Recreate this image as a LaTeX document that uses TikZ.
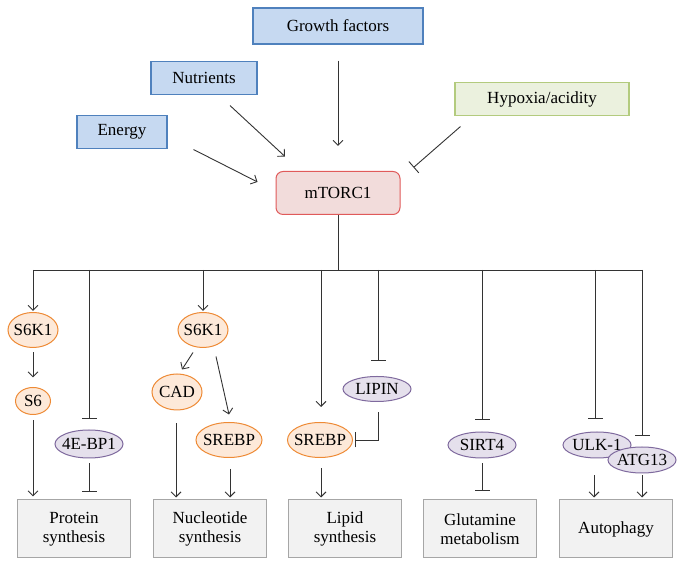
\documentclass[tikz,border=0pt]{standalone}
\usepackage{fontspec}
\setmainfont{Liberation Serif}
\usetikzlibrary{arrows.meta,shapes.geometric}
\definecolor{lnc}{HTML}{333333}
\definecolor{bluef}{HTML}{C6D9F1}
\definecolor{blued}{HTML}{4F81BD}
\definecolor{greenf}{HTML}{EBF1DE}
\definecolor{greend}{HTML}{B3CB7E}
\definecolor{redf}{HTML}{F2DCDB}
\definecolor{redd}{HTML}{E05A5A}
\definecolor{orf}{HTML}{FDE9D9}
\definecolor{ord}{HTML}{EE8A35}
\definecolor{puf}{HTML}{E5E0EC}
\definecolor{pud}{HTML}{7F6A9E}
\definecolor{grf}{HTML}{F2F2F2}
\definecolor{grd}{HTML}{A6A6A6}
\tikzset{
  txt/.style={font=\fontsize{17}{19.5}\selectfont, text=black, inner sep=0pt, align=center},
  inbox/.style={txt, rectangle, draw=blued, fill=bluef, line width=1.1pt},
  hypbox/.style={txt, rectangle, draw=greend, fill=greenf, line width=1.1pt},
  hubbox/.style={txt, rectangle, rounded corners=7pt, draw=redd, fill=redf, line width=1pt},
  ellbase/.style={txt, ellipse, line width=1pt, inner xsep=-5pt, inner ysep=-3pt},
  orell/.style={ellbase, draw=ord, fill=orf},
  puell/.style={ellbase, draw=pud, fill=puf},
  outbox/.style={txt, rectangle, draw=grd, fill=grf, line width=1pt, minimum width=113pt, minimum height=58pt},
  ln/.style={draw=lnc, line width=0.9pt},
  act/.style={ln, -{Straight Barb[length=5pt,width=10pt]}},
  inh/.style={ln, -{Bar[width=15pt]}}
}
\begin{document}
\begin{tikzpicture}[x=1pt,y=1pt]
\useasboundingbox (0,0) rectangle (687,569);
\fill[white] (0,0) rectangle (687,569);
% inputs
\node[inbox, minimum width=170pt, minimum height=36pt] (gf) at (338,543) {Growth factors};
\node[inbox, minimum width=106pt, minimum height=33pt] (nut) at (204,491) {Nutrients};
\node[inbox, minimum width=90pt, minimum height=33pt] (en) at (122,437) {Energy};
\node[hypbox, minimum width=174pt, minimum height=33pt] (hyp) at (542,470) {Hypoxia/acidity};
\node[hubbox, minimum width=124pt, minimum height=43pt] (mtor) at (338,376) {mTORC1};
% ellipses
\node[orell, minimum width=50pt, minimum height=35pt] (s6ka) at (33,239) {S6K1};
\node[orell, minimum width=35pt, minimum height=27pt] (s6) at (33,168) {S6};
\node[puell, minimum width=68pt, minimum height=28pt] (ebp) at (89,125) {4E-BP1};
\node[orell, minimum width=50pt, minimum height=35pt] (s6kb) at (203,239) {S6K1};
\node[orell, minimum width=50pt, minimum height=36pt] (cad) at (177,177) {CAD};
\node[orell, minimum width=66pt, minimum height=35pt] (srebpa) at (229,129) {SREBP};
\node[orell, minimum width=65pt, minimum height=35pt] (srebpb) at (320,129) {SREBP};
\node[puell, minimum width=68pt, minimum height=25pt] (lipin) at (377,180) {LIPIN};
\node[puell, minimum width=68pt, minimum height=26pt] (sirt) at (482,124) {SIRT4};
\node[puell, minimum width=68pt, minimum height=26pt] (ulk) at (597,124) {ULK-1};
\node[puell, minimum width=68pt, minimum height=26pt] (atg) at (642,109) {ATG13};
% outputs
\node[outbox] (prot) at (74,40) {Protein\\synthesis};
\node[outbox] (nucl) at (210,40) {Nucleotide\\synthesis};
\node[outbox] (lip) at (345,40) {Lipid\\synthesis};
\node[outbox] (glut) at (480,40) {Glutamine\\metabolism};
\node[outbox] (auto) at (616,40) {Autophagy};
% inputs to mTORC1
\draw[act] ([yshift=-16pt]gf.south) -- ([yshift=25pt]mtor.north);
\draw[act] ([shift={(26,-10.5)}]nut.south) -- ([shift={(-53,14.5)}]mtor.north);
\draw[act] ([shift={(26,-0.5)}]en.south east) -- ([shift={(-18,11)}]mtor.west);
\draw[inh] ([shift={(6,-10.5)}]hyp.south west) -- ([shift={(13,3.5)}]mtor.north east);
% bus
\coordinate (busL) at (33,299);
\coordinate (busR) at (642,299);
\draw[ln] (mtor.south) -- (mtor.south |- busL);
\draw[ln] (busL) -- (busR);
% branches
\draw[act] (busL) -- ([yshift=1pt]s6ka.north);
\draw[inh] (ebp.north |- busL) -- ([yshift=11pt]ebp.north);
\draw[act] (s6kb.north |- busL) -- ([yshift=1pt]s6kb.north);
\draw[act] (321,299) -- ([shift={(1,15)}]srebpb.north);
\draw[inh] (378,299) -- ([shift={(1,15)}]lipin.north);
\draw[inh] (sirt.north |- busL) -- ([yshift=12pt]sirt.north);
\draw[inh] (595,299) -- ([shift={(-2,13)}]ulk.north);
\draw[inh] (busR) -- ([yshift=11pt]atg.north);
% protein synthesis
\draw[act] ([yshift=-4.5pt]s6ka.south) -- ([yshift=9.5pt]s6.north);
\draw[act] ([yshift=-5.5pt]s6.south) -- ([yshift=3pt]prot.north -| s6.south);
\draw[inh] ([yshift=-5pt]ebp.south) -- ([yshift=8pt]prot.north -| ebp.south);
% nucleotide synthesis
\draw[act] ([shift={(-10,-4.5)}]s6kb.south) -- ([shift={(5,4)}]cad.north);
\draw[act] ([shift={(13,-8.5)}]s6kb.south) -- ([shift={(0,7.5)}]srebpa.north);
\draw[act] ([shift={(-1,-13)}]cad.south) -- ([shift={(-1,2)}]nucl.north -| cad.south);
\draw[act] ([shift={(1,-11)}]srebpa.south) -- ([shift={(1,2)}]nucl.north -| srebpa.south);
% lipid synthesis
\draw[act] ([shift={(1,-10.5)}]srebpb.south) -- ([shift={(1,2)}]lip.north -| srebpb.south);
\draw[inh] ([shift={(1,-10.5)}]lipin.south) |- ([xshift=2pt]srebpb.east);
% glutamine
\draw[inh] ([yshift=-5pt]sirt.south) -- ([yshift=9pt]glut.north -| sirt.south);
% autophagy
\draw[act] ([shift={(-3,-17)}]ulk.south) -- ([shift={(-3,2)}]auto.north -| ulk.south);
\draw[act] ([yshift=-2pt]atg.south) -- ([yshift=2pt]auto.north -| atg.south);
\end{tikzpicture}
\end{document}
